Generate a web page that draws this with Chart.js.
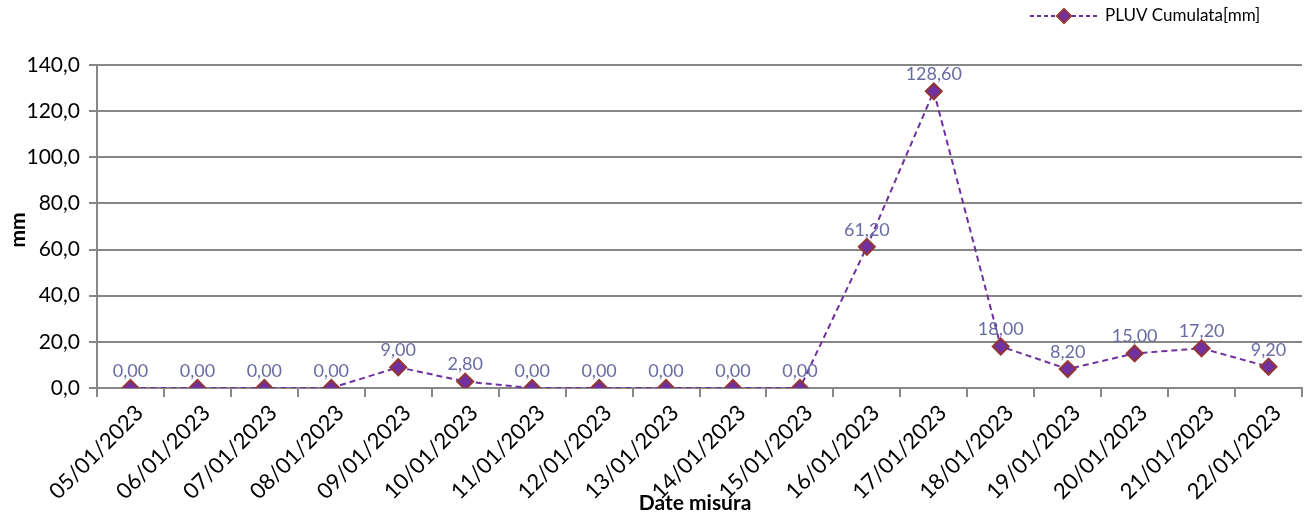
<!DOCTYPE html>
<html lang="it">
<head>
<meta charset="UTF-8">
<script src="https://cdn.jsdelivr.net/npm/chart.js"></script>
<style>
  body { margin: 0; background: #fff; }
  #wrap { width: 1316px; height: 520px; position: relative; }
</style>
</head>
<body>
<div id="wrap"><canvas id="chartPluv" width="1316" height="520"></canvas></div>
<script>
// dati
const dateMisura = ['05/01/2023', '06/01/2023', '07/01/2023', '08/01/2023', '09/01/2023', '10/01/2023',
  '11/01/2023', '12/01/2023', '13/01/2023', '14/01/2023', '15/01/2023', '16/01/2023',
  '17/01/2023', '18/01/2023', '19/01/2023', '20/01/2023', '21/01/2023', '22/01/2023']
const pluvCumulata = [0, 0, 0, 0, 9, 2.8, 0, 0, 0, 0, 0, 61.2, 128.6, 18, 8.2, 15, 17.2, 9.2]
const yTicks = [0, 20, 40, 60, 80, 100, 120, 140]

const viola = '#7030A0'
const bordo = '#943634'
const grigio = '#878787'
const fontBase = 'Lato, "Noto Sans", sans-serif'

const fmt = (v, d) => v.toFixed(d).replace('.', ',')

// etichette dati, titoli assi, legenda
const extra = {
  id: 'extra',
  afterDatasetsDraw(chart) {
    const ctx = chart.ctx
    const meta = chart.getDatasetMeta(0)
    ctx.save()
    ctx.font = '18px ' + fontBase
    ctx.fillStyle = '#6A6AA4'
    ctx.textAlign = 'center'
    ctx.textBaseline = 'bottom'
    meta.data.forEach(function (p, i) {
      ctx.fillText(fmt(pluvCumulata[i], 2), p.x, p.y - 8)
    })
    ctx.restore()
  },
  afterDraw(chart) {
    const ctx = chart.ctx
    ctx.save()
    ctx.fillStyle = '#000'
    ctx.font = 'bold 21px ' + fontBase
    ctx.textAlign = 'center'
    ctx.textBaseline = 'middle'
    ctx.fillText('Date misura', 695, 503)
    ctx.translate(18, 230)
    ctx.rotate(-Math.PI / 2)
    ctx.fillText('mm', 0, 0)
    ctx.restore()

    // legenda
    ctx.save()
    ctx.strokeStyle = viola
    ctx.lineWidth = 2
    ctx.setLineDash([4, 3])
    ctx.beginPath()
    ctx.moveTo(1030, 16)
    ctx.lineTo(1097, 16)
    ctx.stroke()
    ctx.setLineDash([])
    ctx.beginPath()
    ctx.moveTo(1064, 9)
    ctx.lineTo(1071, 16)
    ctx.lineTo(1064, 23)
    ctx.lineTo(1057, 16)
    ctx.closePath()
    ctx.fillStyle = viola
    ctx.fill()
    ctx.strokeStyle = bordo
    ctx.stroke()
    ctx.fillStyle = '#000'
    ctx.font = '17px ' + fontBase
    ctx.textAlign = 'left'
    ctx.textBaseline = 'middle'
    ctx.fillText('PLUV Cumulata[mm]', 1105, 16)
    ctx.restore()
  }
}

new Chart(document.getElementById('chartPluv'), {
  type: 'line',
  data: {
    labels: dateMisura,
    datasets: [{
      label: 'PLUV Cumulata[mm]',
      data: pluvCumulata,
      borderColor: viola,
      borderWidth: 2,
      borderDash: [6, 4],
      pointStyle: 'rectRot',
      pointRadius: 8,
      pointHoverRadius: 8,
      pointBackgroundColor: viola,
      pointBorderColor: bordo,
      pointBorderWidth: 2,
      tension: 0
    }]
  },
  options: {
    responsive: false,
    animation: false,
    devicePixelRatio: 1,
    layout: { padding: { top: 65, right: 14, left: 0, bottom: 0 } },
    plugins: { legend: { display: false }, tooltip: { enabled: false } },
    scales: {
      x: {
        offset: true,
        afterFit(s) { s.height = 132 },
        grid: { offset: true, drawOnChartArea: false, drawTicks: true, tickLength: 9, color: grigio, lineWidth: 2 },
        border: { color: grigio, width: 2 },
        ticks: {
          color: '#000',
          font: { size: 22, family: fontBase },
          minRotation: 45,
          maxRotation: 45,
          autoSkip: false,
          labelOffset: 9,
          padding: 3
        }
      },
      y: {
        min: 0,
        max: 140,
        afterFit(s) { s.width = 97 },
        afterBuildTicks(s) { s.ticks = yTicks.map(v => ({ value: v })) },
        grid: { color: grigio, lineWidth: 2, tickLength: 8 },
        border: { color: grigio, width: 2 },
        ticks: {
          color: '#000',
          font: { size: 21, family: fontBase },
          padding: 9,
          callback: v => fmt(v, 1)
        }
      }
    }
  },
  plugins: [extra]
})
</script>
</body>
</html>
